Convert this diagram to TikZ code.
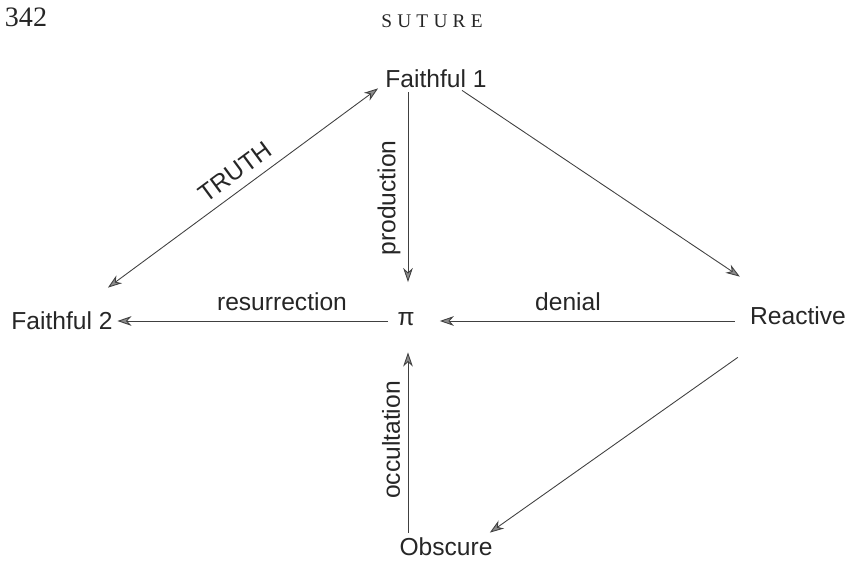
\documentclass[tikz,border=0pt]{standalone}
\usepackage{fontspec}
\setmainfont{Liberation Serif}
\setsansfont{Liberation Sans}
\usepackage{xcolor}
\usetikzlibrary{positioning,arrows.meta}

\begin{document}
\begin{tikzpicture}[
    x=0.02cm, y=-0.02cm,
    >={Stealth[length=8pt, width=5.5pt, inset=2.5pt, fill=black!45]},
    every node/.style={font=\sffamily\fontsize{14}{16}\selectfont,
                       text=black!85, inner sep=0pt},
    arr/.style={->, draw=black!75, line width=0.5pt},
    lbl/.style={font=\sffamily\fontsize{14}{16}\selectfont}
  ]
  \useasboundingbox (0,0) rectangle (852,564);

  % running head
  \node[font=\rmfamily\fontsize{16}{18}\selectfont] (page)  at (26,17.5) {342};
  \node[font=\rmfamily\fontsize{11}{13}\selectfont\addfontfeatures{LetterSpace=27}]
                            (head)  at (432,21.5) {SUTURE};

  \node (f1)  at (436,79)  {Faithful 1};
  \node (f2)  at (62,321)  {Faithful 2};
  \node (pi)  at (406,319) {π};
  \node (re)  at (798,316) {Reactive};
  \node (ob)  at (446,547) {Obscure};

  \draw[arr, <->] ([shift={(-7,0)}]f1.south west) -- ([shift={(-5,-24)}]f2.north east);
  \draw[arr] ([shift={(-28,4)}]f1.south)   -- ([shift={(2,-30)}]pi.north);
  \draw[arr] ([shift={(26,2)}]f1.south)    -- ([shift={(-10,-30)}]re.north west);
  \draw[arr] ([shift={(-15,5)}]re.west)    -- ([shift={(25,2)}]pi.east);
  \draw[arr] ([shift={(-9,2)}]pi.west)     -- ([shift={(4.5,0)}]f2.east);
  \draw[arr] ([shift={(-12,32)}]re.south west) -- ([shift={(-3,-5)}]ob.north east);
  \draw[arr] ([shift={(-38,-5)}]ob.north)  -- ([shift={(2,26.5)}]pi.south);

  \node[lbl, rotate=36.5] (ltruth) at (235,172) {TRUTH};
  \node[lbl, rotate=90]   (lprod)  at (389,198) {production};
  \node[lbl]              (lres)   at (282,302) {resurrection};
  \node[lbl]              (lden)   at (568,302) {denial};
  \node[lbl, rotate=90]   (locc)   at (391,440) {occultation};
\end{tikzpicture}
\end{document}
